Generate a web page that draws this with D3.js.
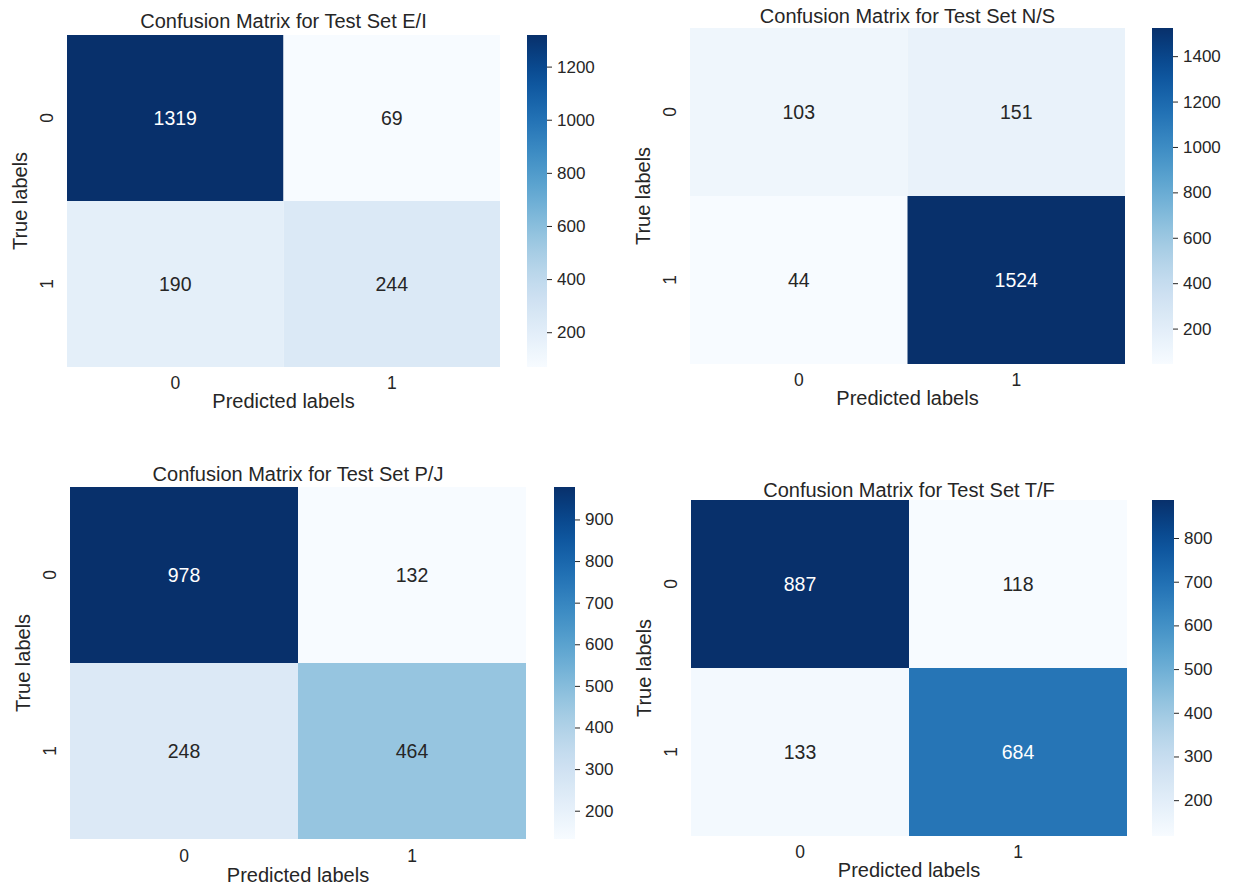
<!DOCTYPE html>
<html>
<head>
<meta charset="utf-8">
<script src="https://cdn.jsdelivr.net/npm/d3@7"></script>
<style>
  html, body { margin: 0; padding: 0; background: #ffffff; }
  svg text { font-family: "Liberation Sans", Arial, sans-serif; fill: #262626; }
</style>
</head>
<body>
<svg id="chart" width="1234" height="885"></svg>
<script>
// ---------- data ----------
const classLabels = ["0", "1"];
const panelTitles = [
  "Confusion Matrix for Test Set E/I",
  "Confusion Matrix for Test Set N/S",
  "Confusion Matrix for Test Set P/J",
  "Confusion Matrix for Test Set T/F"
];
const matrixEI = [[1319, 69], [190, 244]];
const matrixNS = [[103, 151], [44, 1524]];
const matrixPJ = [[978, 132], [248, 464]];
const matrixTF = [[887, 118], [133, 684]];
const ticksEI = [200, 400, 600, 800, 1000, 1200];
const ticksNS = [200, 400, 600, 800, 1000, 1200, 1400];
const ticksPJ = [200, 300, 400, 500, 600, 700, 800, 900];
const ticksTF = [200, 300, 400, 500, 600, 700, 800];
const xAxisTitle = "Predicted labels";
const yAxisTitle = "True labels";

// ---------- layout (positions only) ----------
const layout = [
  { x: 67,  y: 35,  w: 433, h: 332, cbx: 527,  cbw: 20, ty: 21 },
  { x: 690, y: 28,  w: 435, h: 336, cbx: 1152, cbw: 21, ty: 16 },
  { x: 70,  y: 487, w: 456, h: 352, cbx: 554,  cbw: 21, ty: 474 },
  { x: 691, y: 500, w: 436, h: 336, cbx: 1152, cbw: 22, ty: 490 }
];
const matrices = [matrixEI, matrixNS, matrixPJ, matrixTF];
const tickSets = [ticksEI, ticksNS, ticksPJ, ticksTF];

const FONT = '"Liberation Sans", Arial, sans-serif';
const svg = d3.select("#chart");
const defs = svg.append("defs");

function luminance(c) {
  const rgb = d3.rgb(c);
  const f = v => { v /= 255; return v <= 0.03928 ? v / 12.92 : Math.pow((v + 0.055) / 1.055, 2.4); };
  return 0.2126 * f(rgb.r) + 0.7152 * f(rgb.g) + 0.0722 * f(rgb.b);
}

matrices.forEach((m, i) => {
  const L = layout[i];
  const flat = m.flat();
  const vmin = d3.min(flat), vmax = d3.max(flat);
  const color = d3.scaleSequential(d3.interpolateBlues).domain([vmin, vmax]);
  const xs = d3.scaleBand().domain(classLabels).range([L.x, L.x + L.w]);
  const ys = d3.scaleBand().domain(classLabels).range([L.y, L.y + L.h]);
  const g = svg.append("g");
  const k = L.h / 332;

  const cells = [];
  m.forEach((row, r) => row.forEach((v, c) => cells.push({ r: classLabels[r], c: classLabels[c], v })));

  g.selectAll("rect.cell").data(cells).enter().append("rect")
    .attr("class", "cell")
    .attr("x", d => xs(d.c)).attr("y", d => ys(d.r))
    .attr("width", xs.bandwidth()).attr("height", ys.bandwidth())
    .attr("fill", d => color(d.v));

  g.selectAll("text.annot").data(cells).enter().append("text")
    .attr("class", "annot")
    .attr("x", d => xs(d.c) + xs.bandwidth() / 2)
    .attr("y", d => ys(d.r) + ys.bandwidth() / 2)
    .attr("text-anchor", "middle").attr("dominant-baseline", "central")
    .style("font-size", "19.5px")
    .style("fill", d => luminance(color(d.v)) < 0.408 ? "#ffffff" : "#262626")
    .text(d => d.v);

  // title
  g.append("text")
    .attr("x", L.x + L.w / 2).attr("y", L.ty)
    .attr("text-anchor", "middle").attr("dominant-baseline", "central")
    .style("font-size", "20px")
    .text(panelTitles[i]);

  // x axis
  const xAxis = g.append("g").attr("transform", `translate(0,${L.y + L.h})`)
    .call(d3.axisBottom(xs).tickSize(0).tickPadding(0));
  xAxis.select(".domain").remove();
  xAxis.selectAll("text")
    .attr("y", 16 * k).attr("dy", null).attr("dominant-baseline", "central")
    .style("font-size", "17.5px").style("fill", "#262626").style("font-family", FONT);

  g.append("text")
    .attr("x", L.x + L.w / 2).attr("y", L.y + L.h + 34 * k)
    .attr("text-anchor", "middle").attr("dominant-baseline", "central")
    .style("font-size", "20px")
    .text(xAxisTitle);

  // y axis
  const yAxis = g.append("g").attr("transform", `translate(${L.x},0)`)
    .call(d3.axisLeft(ys).tickSize(0).tickPadding(0));
  yAxis.select(".domain").remove();
  yAxis.selectAll("text")
    .attr("x", 0).attr("dy", null)
    .attr("text-anchor", "middle").attr("dominant-baseline", "central")
    .attr("transform", "translate(-20,0) rotate(-90)")
    .style("font-size", "17.5px").style("fill", "#262626").style("font-family", FONT);

  g.append("text")
    .attr("transform", `translate(${L.x - 47},${L.y + L.h / 2}) rotate(-90)`)
    .attr("text-anchor", "middle").attr("dominant-baseline", "central")
    .style("font-size", "20px")
    .text(yAxisTitle);

  // colorbar
  const gradId = "grad" + i;
  const grad = defs.append("linearGradient").attr("id", gradId)
    .attr("x1", "0").attr("y1", "1").attr("x2", "0").attr("y2", "0");
  d3.range(0, 1.0001, 0.05).forEach(t => {
    grad.append("stop").attr("offset", t).attr("stop-color", color(vmin + t * (vmax - vmin)));
  });
  g.append("rect")
    .attr("x", L.cbx).attr("y", L.y).attr("width", L.cbw).attr("height", L.h)
    .attr("fill", `url(#${gradId})`);
  const cs = d3.scaleLinear().domain([vmin, vmax]).range([L.y + L.h, L.y]);
  const cAxis = g.append("g").attr("transform", `translate(${L.cbx + L.cbw},0)`)
    .call(d3.axisRight(cs).tickValues(tickSets[i]).tickSize(5).tickPadding(5).tickFormat(d3.format("d")));
  cAxis.select(".domain").remove();
  cAxis.selectAll("line").attr("stroke", "#262626").attr("stroke-width", 1);
  cAxis.selectAll("text").style("font-size", "17px").style("fill", "#262626").style("font-family", FONT);
});
</script>
</body>
</html>
